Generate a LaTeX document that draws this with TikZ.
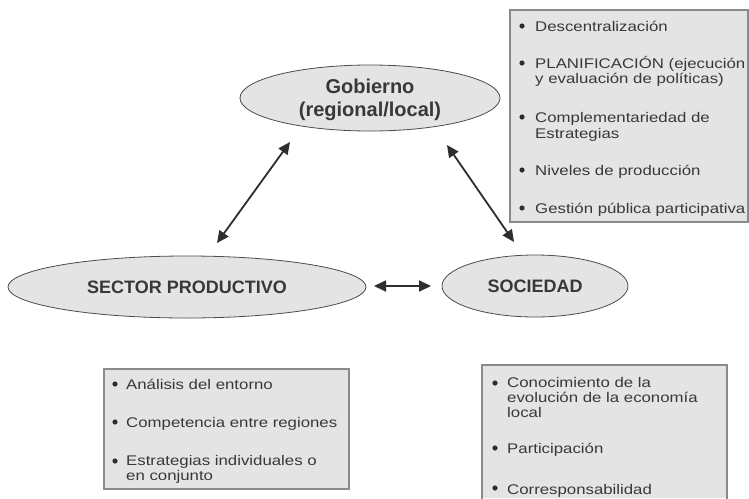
\documentclass[tikz,border=0pt]{standalone}
\usepackage{fontspec}
\setmainfont{Liberation Sans}
\newfontfamily\itemfont{Liberation Sans}[FakeStretch=1.2]
\usetikzlibrary{shapes.geometric,arrows.meta}
\definecolor{fillg}{HTML}{E4E4E4}
\definecolor{boxedge}{HTML}{8A8A8A}
\definecolor{txt}{HTML}{383838}
\definecolor{arrc}{HTML}{2E2E2E}
\tikzset{
  ell/.style={ellipse, draw=black!70, fill=fillg, line width=0.8pt, inner sep=0pt, text=txt, font=\bfseries},
  panel/.style={fill=fillg},
  paneledge/.style={draw=boxedge, line width=1.8pt},
  itm/.style={anchor=west, inner sep=0pt, text=txt, font=\itemfont\fontsize{14}{16}\selectfont, text height=10pt, text depth=0pt},
  dot/.style={fill=arrc},
  arr/.style={{Triangle[length=12pt,width=11pt]}-{Triangle[length=12pt,width=11pt]}, line width=1.8pt, draw=arrc},
  lbl/.style={inner sep=0pt, text=txt}
}
\begin{document}
\begin{tikzpicture}[x=1pt,y=-1pt]
\useasboundingbox (0,0) rectangle (749,498);
% panels
\path[panel] (510,10) rectangle (749,222);
\draw[paneledge] (510,10) rectangle (748,222);
\path[panel] (104,369) rectangle (349,489);
\draw[paneledge] (104,369) rectangle (349,489);
\path[panel] (482,365) rectangle (727,498);
\draw[paneledge] (482,499) -- (482,365) -- (727,365) -- (727,499);
% ellipses
\node[ell, minimum width=260pt, minimum height=66pt] (gob) at (370,98) {};
\node[lbl, font=\bfseries\fontsize{20}{23}\selectfont] (gobt1) at (370,86) {Gobierno};
\node[lbl, font=\bfseries\fontsize{20}{23}\selectfont] (gobt2) at (370,111) {(regional/local)};
\node[ell, minimum width=358pt, minimum height=62pt, font=\bfseries\fontsize{18}{21}\selectfont] (sec) at (187,287) {SECTOR PRODUCTIVO};
\node[ell, minimum width=186pt, minimum height=62pt, font=\bfseries\fontsize{18}{21}\selectfont] (soc) at (535,286) {SOCIEDAD};
% arrows
\coordinate (a1) at (290,142); \coordinate (a2) at (217,243);
\coordinate (b1) at (447,145); \coordinate (b2) at (514,242);
\coordinate (c1) at (374,286); \coordinate (c2) at (431,286);
\draw[arr] (a1) -- (a2);
\draw[arr] (b1) -- (b2);
\draw[arr] (c1) -- (c2);
% top-right items
\fill[dot] (522,26) circle (2.6);
\node[itm] (r1) at (535,26) {Descentralización};
\fill[dot] (522,63) circle (2.6);
\node[itm] (r2a) at (535,63) {PLANIFICACIÓN (ejecución};
\node[itm] (r2b) at (535,78) {y evaluación de políticas)};
\fill[dot] (522,117) circle (2.6);
\node[itm] (r3a) at (535,117) {Complementariedad de};
\node[itm] (r3b) at (535,133) {Estrategias};
\fill[dot] (522,170) circle (2.6);
\node[itm] (r4) at (535,170) {Niveles de producción};
\fill[dot] (522,208) circle (2.6);
\node[itm] (r5) at (535,208) {Gestión pública participativa};
% bottom-left items
\fill[dot] (115,384) circle (2.6);
\node[itm] (l1) at (126,384) {Análisis del entorno};
\fill[dot] (115,422) circle (2.6);
\node[itm] (l2) at (126,422) {Competencia entre regiones};
\fill[dot] (115,461) circle (2.6);
\node[itm] (l3a) at (126,460) {Estrategias individuales o};
\node[itm] (l3b) at (126,475) {en conjunto};
% bottom-right items
\fill[dot] (495,383) circle (2.6);
\node[itm] (s1a) at (507,382) {Conocimiento de la};
\node[itm] (s1b) at (507,397) {evolución de la economía};
\node[itm] (s1c) at (507,412) {local};
\fill[dot] (495,448) circle (2.6);
\node[itm] (s2) at (507,448) {Participación};
\fill[dot] (495,488) circle (2.6);
\node[itm] (s3) at (507,489) {Corresponsabilidad};
\end{tikzpicture}
\end{document}
